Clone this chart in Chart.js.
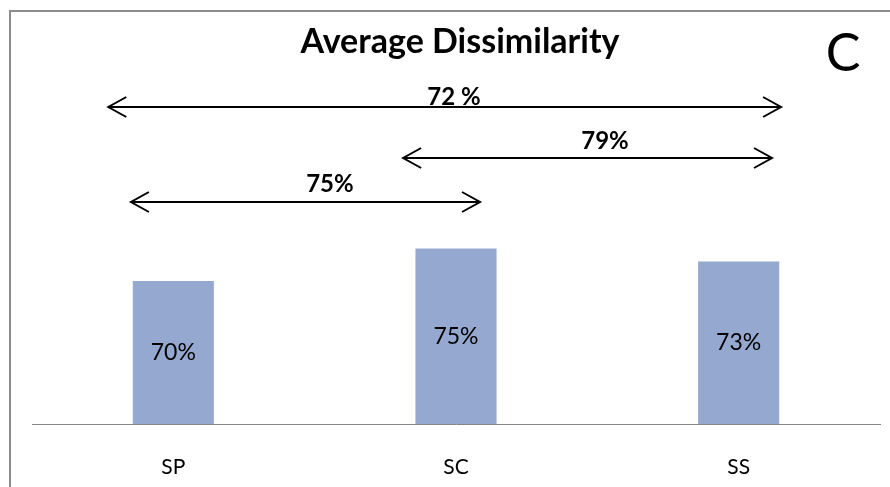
<!DOCTYPE html>
<html>
<head>
<meta charset="utf-8">
<script src="https://cdn.jsdelivr.net/npm/chart.js@4/dist/chart.umd.min.js"></script>
<style>
  html, body { margin: 0; padding: 0; background: #fff; overflow: hidden; }
  #wrap { position: relative; width: 890px; height: 487px; }
</style>
</head>
<body>
<div id="wrap"><canvas id="chart" width="890" height="487"></canvas></div>
<script>
// Groups and their average dissimilarity (%)
const categories = ['SP', 'SC', 'SS'];
const dissimilarity = [70, 75, 73];

// Between-group comparisons shown as double arrows
const pairText = ['72 %', '79%', '75%'];
const pairValue = [72, 79, 75];

const chartTitle = 'Average Dissimilarity';
const panelLetter = 'C';

// Value axis range (axis itself is hidden)
const yMin = 48;
const yMax = 100;

// Arrow extents in axis units (x: category index, y: value scale)
const brackets = [
  { from: -0.23, to: 2.15, level: 96.8, textX: 0.993, textLevel: 98.3 },
  { from: 0.813, to: 2.118, level: 88.9, textX: 1.527, textLevel: 91.5 },
  { from: -0.15, to: 1.085, level: 82.2, textX: 0.554, textLevel: 84.9 }
];

const FONT = 'Lato, "Open Sans", sans-serif';

const framePlugin = {
  id: 'frame',
  beforeDraw(chart) {
    const ctx = chart.ctx;
    ctx.save();
    ctx.fillStyle = '#ffffff';
    ctx.fillRect(0, 0, chart.width, chart.height);
    ctx.fillStyle = '#8c8c8c';
    ctx.fillRect(9, 10, 2, chart.height - 10);
    ctx.fillRect(9, 10, chart.width - 9, 2);
    ctx.restore();
  }
};

const annotatePlugin = {
  id: 'annotate',
  afterDatasetsDraw(chart) {
    const ctx = chart.ctx;
    const xs = chart.scales.x, ys = chart.scales.y;
    ctx.save();

    // value labels centred inside each bar
    const meta = chart.getDatasetMeta(0);
    ctx.fillStyle = '#000';
    ctx.font = '23px ' + FONT;
    ctx.textAlign = 'center';
    ctx.textBaseline = 'middle';
    meta.data.forEach((bar, i) => {
      const cy = (bar.y + bar.base) / 2;
      ctx.fillText(dissimilarity[i] + '%', bar.x, cy);
    });

    // comparison arrows
    ctx.strokeStyle = '#000';
    ctx.lineWidth = 2;
    brackets.forEach((b, i) => {
      const x1 = xs.getPixelForValue(b.from);
      const x2 = xs.getPixelForValue(b.to);
      const y = Math.round(ys.getPixelForValue(b.level));
      ctx.beginPath();
      ctx.moveTo(x1, y); ctx.lineTo(x2, y);
      ctx.moveTo(x1 + 18, y - 10); ctx.lineTo(x1, y); ctx.lineTo(x1 + 18, y + 10);
      ctx.moveTo(x2 - 18, y - 10); ctx.lineTo(x2, y); ctx.lineTo(x2 - 18, y + 10);
      ctx.stroke();
      ctx.font = 'bold 24px ' + FONT;
      ctx.fillText(pairText[i], xs.getPixelForValue(b.textX), ys.getPixelForValue(b.textLevel));
    });

    // title and panel letter
    ctx.textBaseline = 'alphabetic';
    ctx.font = 'bold 34px ' + FONT;
    ctx.fillText(chartTitle, (chart.chartArea.left + chart.chartArea.right) / 2 + 4, 53);
    ctx.textBaseline = 'middle';
    ctx.font = '52px ' + FONT;
    ctx.fillText(panelLetter, 843, 54);
    ctx.restore();
  }
};

new Chart(document.getElementById('chart'), {
  type: 'bar',
  data: {
    labels: categories,
    datasets: [{
      data: dissimilarity,
      base: yMin,
      backgroundColor: 'rgb(149,169,208)',
      borderWidth: 0,
      barPercentage: 0.287,
      categoryPercentage: 1
    }]
  },
  options: {
    responsive: false,
    devicePixelRatio: 1,
    animation: false,
    layout: { padding: { left: 32, right: 10, top: 86, bottom: 8 } },
    plugins: { legend: { display: false }, tooltip: { enabled: false }, title: { display: false } },
    scales: {
      x: {
        grid: { display: false, drawTicks: false },
        border: { display: true, color: '#868686', width: 1 },
        ticks: { color: '#000', padding: 31, font: { family: FONT, size: 21 } },
        afterFit(scale) { scale.height = 55; }
      },
      y: { display: false, min: yMin, max: yMax }
    }
  },
  plugins: [framePlugin, annotatePlugin]
});
</script>
</body>
</html>
